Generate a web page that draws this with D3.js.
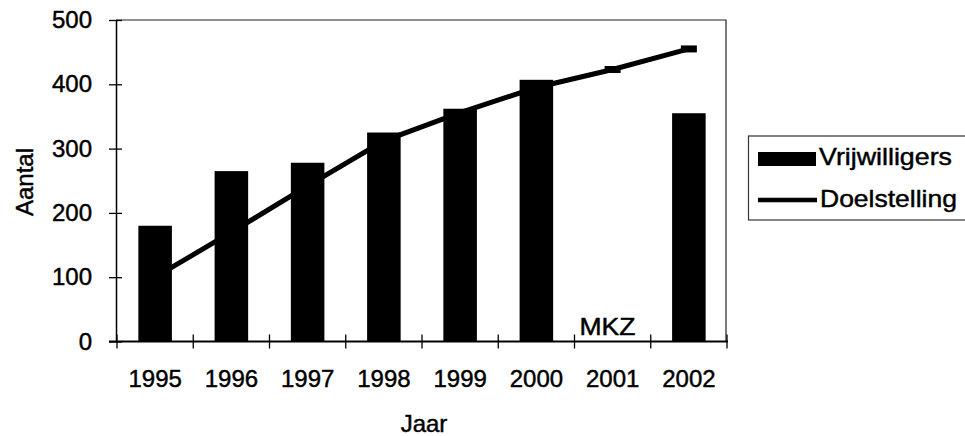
<!DOCTYPE html>
<html>
<head>
<meta charset="utf-8">
<script src="https://cdn.jsdelivr.net/npm/d3@7"></script>
<style>
  body { margin: 0; background: #fff; }
  text { font-family: "Liberation Sans", Arial, sans-serif; fill: #000; stroke: #000; stroke-width: 0.45px; }
</style>
</head>
<body>
<div id="chart"></div>
<script>
// data
const years = ["1995", "1996", "1997", "1998", "1999", "2000", "2001", "2002"];
const vrijwilligers = [180, 265, 278, 325, 362, 407, null, 355];
const doelstelling = [100, 170, 242, 312, 356, 395, 423, 455];
const yTicks = [0, 100, 200, 300, 400, 500];
const seriesNames = ["Vrijwilligers", "Doelstelling"];
const note = "MKZ";

const W = 965, H = 436;
const plotLeft = 116, plotRight = 726, plotTop = 20, plotBottom = 341.5;

const svg = d3.select("#chart").append("svg")
  .attr("width", W)
  .attr("height", H);

const x = d3.scaleBand().domain(years).range([plotLeft + 1, plotRight + 1]).padding(0);
const y = d3.scaleLinear().domain([0, 500]).range([plotBottom, plotTop]);
const barW = x.bandwidth() * 0.44;

// frame: top and right edge
svg.append("path")
  .attr("d", `M${plotLeft},${plotTop}H${plotRight}V${plotBottom}`)
  .attr("fill", "none")
  .attr("stroke", "#222")
  .attr("stroke-width", 1.2);

// bars
svg.append("g")
  .selectAll("rect")
  .data(years.map((d, i) => ({ year: d, v: vrijwilligers[i] })).filter(d => d.v != null))
  .join("rect")
  .attr("x", d => x(d.year) + (x.bandwidth() - barW) / 2)
  .attr("y", d => y(d.v))
  .attr("width", barW)
  .attr("height", d => y(0) - y(d.v))
  .attr("fill", "#000");

// target line
const pts = years.map((d, i) => ({ year: d, v: doelstelling[i] }));
const line = d3.line()
  .x(d => x(d.year) + x.bandwidth() / 2)
  .y(d => y(d.v));

svg.append("path")
  .datum(pts)
  .attr("d", line)
  .attr("fill", "none")
  .attr("stroke", "#000")
  .attr("stroke-width", 5);

// dash markers
svg.append("g")
  .selectAll("rect")
  .data(pts)
  .join("rect")
  .attr("x", d => x(d.year) + x.bandwidth() / 2 - 8)
  .attr("y", d => y(d.v) - 3.5)
  .attr("width", 16)
  .attr("height", 7)
  .attr("fill", "#000");

// Y axis
const yAxis = svg.append("g")
  .attr("transform", `translate(${plotLeft},0)`)
  .call(d3.axisLeft(y).tickValues(yTicks).tickSize(0).tickPadding(24));
yAxis.select(".domain").attr("stroke", "#000").attr("stroke-width", 1.5);
yAxis.selectAll("text").style("font-size", "24px");
yAxis.selectAll(".tick").append("line")
  .attr("x1", -7).attr("x2", 6)
  .attr("stroke", "#000").attr("stroke-width", 1.3);

// X axis
const xAxis = svg.append("g")
  .attr("transform", `translate(0,${plotBottom})`)
  .call(d3.axisBottom(x).tickSize(0).tickPadding(28));
xAxis.select(".domain").attr("d", `M${plotLeft - 7},0H${plotRight + 2}`)
  .attr("stroke", "#000").attr("stroke-width", 2);
xAxis.selectAll("text").style("font-size", "24px");

// cross ticks at the category boundaries
const edges = years.map(d => x(d)).concat([x(years[years.length - 1]) + x.bandwidth()]);
svg.append("g")
  .selectAll("line")
  .data(edges)
  .join("line")
  .attr("x1", d => d).attr("x2", d => d)
  .attr("y1", plotBottom - 7).attr("y2", plotBottom + 7)
  .attr("stroke", "#000").attr("stroke-width", 1.3);

// MKZ note in 2001
svg.append("text")
  .attr("x", x("2001") + 5)
  .attr("y", plotBottom - 6.5)
  .style("font-size", "24px")
  .attr("textLength", 56)
  .attr("lengthAdjust", "spacingAndGlyphs")
  .text(note);

// axis titles
svg.append("text")
  .attr("transform", `translate(33,182) rotate(-90)`)
  .attr("text-anchor", "middle")
  .style("font-size", "24px")
  .text("Aantal");

svg.append("text")
  .attr("x", 424)
  .attr("y", 432)
  .attr("text-anchor", "middle")
  .style("font-size", "24px")
  .text("Jaar");

// legend
const lg = svg.append("g");
lg.append("rect")
  .attr("x", 748.5).attr("y", 136)
  .attr("width", 230).attr("height", 84)
  .attr("fill", "#fff")
  .attr("stroke", "#333").attr("stroke-width", 1.2);

lg.append("rect")
  .attr("x", 758).attr("y", 152)
  .attr("width", 58).attr("height", 14)
  .attr("fill", "#000");
lg.append("line")
  .attr("x1", 758).attr("x2", 817)
  .attr("y1", 200).attr("y2", 200)
  .attr("stroke", "#000").attr("stroke-width", 4.5);

lg.append("text")
  .attr("x", 819).attr("y", 165)
  .style("font-size", "24px")
  .attr("textLength", 133)
  .attr("lengthAdjust", "spacingAndGlyphs")
  .text(seriesNames[0]);
lg.append("text")
  .attr("x", 820).attr("y", 207)
  .style("font-size", "24px")
  .attr("textLength", 137)
  .attr("lengthAdjust", "spacingAndGlyphs")
  .text(seriesNames[1]);
</script>
</body>
</html>
